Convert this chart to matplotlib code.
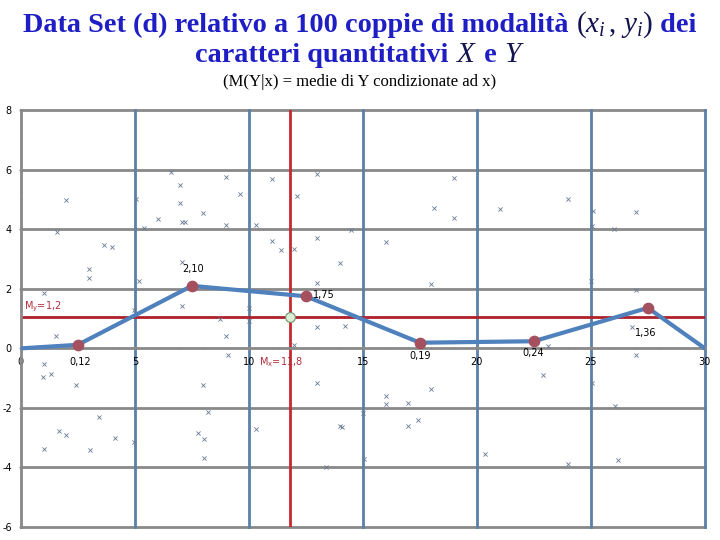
import numpy as np
import matplotlib
matplotlib.use('Agg')
import matplotlib.pyplot as plt
from matplotlib.ticker import MultipleLocator

plt.rcParams['mathtext.fontset'] = 'custom'
plt.rcParams['mathtext.rm'] = 'Liberation Serif'
plt.rcParams['mathtext.it'] = 'Liberation Serif:italic'
plt.rcParams['axes.unicode_minus'] = False

# dati
xs = [6.6, 7.0, 9.0, 9.6, 2.0, 7.0, 8.0, 6.0, 7.05, 7.2, 9.0, 5.4, 5.05, 1.6, 3.64, 4.0,
      11.0, 13.0, 12.1, 10.3, 11.0, 13.0, 14.5, 16.0, 18.1, 19.0, 19.0, 12.0, 11.4,
      24.0, 21.0, 25.1, 27.0, 25.07, 26.0,
      7.05, 3.0, 3.0, 5.2, 1.0, 7.05, 10.0, 4.97, 8.73, 1.53, 9.0, 9.1, 1.0, 0.98, 1.3,
      14.0, 13.0, 18.0, 10.0, 13.0, 14.2, 12.0,
      27.0, 26.8, 25.0, 23.1, 27.0, 22.9,
      2.4, 8.0, 8.2, 3.42, 1.68, 2.0, 7.78, 8.03, 4.12, 4.97, 1.02, 3.03, 8.03,
      13.0, 16.0, 16.0, 17.0, 18.0, 15.0, 17.4, 17.0, 14.0, 14.1, 10.3, 15.06, 13.4, 20.35,
      25.07, 26.05, 24.0, 26.2]
ys = [5.92, 5.5, 5.75, 5.17, 4.98, 4.88, 4.55, 4.36, 4.24, 4.24, 4.14, 4.05, 5.03, 3.9, 3.46, 3.39,
      5.69, 5.87, 5.11, 4.16, 3.6, 3.69, 3.96, 3.58, 4.71, 5.73, 4.37, 3.33, 3.3,
      5.03, 4.69, 4.61, 4.57, 4.1, 4.02,
      2.9, 2.65, 2.35, 2.26, 1.87, 1.42, 1.36, 1.29, 0.97, 0.41, 0.41, -0.23, -0.54, -0.95, -0.87,
      2.87, 2.2, 2.15, 0.92, 0.73, 0.75, 0.13,
      1.96, 0.73, 2.26, 0.08, -0.23, -0.9,
      -1.23, -1.24, -2.12, -2.29, -2.77, -2.92, -2.85, -3.05, -3.02, -3.14, -3.37, -3.41, -3.67,
      -1.15, -1.6, -1.88, -1.82, -1.38, -2.16, -2.4, -2.6, -2.6, -2.65, -2.72, -3.7, -3.98, -3.56,
      -1.17, -1.94, -3.87, -3.75]

# medie condizionate
xm = [0, 2.5, 7.5, 12.5, 17.5, 22.5, 27.5, 30]
ym = [0, 0.12, 2.10, 1.75, 0.19, 0.24, 1.36, 0]
etich = ['0,12', '2,10', '1,75', '0,19', '0,24', '1,36']
etich_pos = [(2.59, -0.47), (7.55, 2.65), (13.3, 1.78), (17.5, -0.27), (22.45, -0.17), (27.4, 0.5)]

Mx = 11.8
My = 1.05   # posizione della linea nel grafico

fig = plt.figure(figsize=(7.2, 5.4), dpi=100)
ax = fig.add_axes([0.029, 0.024, 0.950, 0.772])
ax.set_xlim(0, 30)
ax.set_ylim(-6, 8)

grigio = '#898989'
blu = '#5b80a8'
for yy in [-6, -4, -2, 2, 4, 6, 8]:
    ax.axhline(yy, color=grigio, lw=2, zorder=1, clip_on=False)
for xx in [5, 10, 15, 20, 25, 30]:
    ax.axvline(xx, color=blu, lw=2, zorder=1, clip_on=False)

for s in ['top', 'right']:
    ax.spines[s].set_visible(False)
ax.spines['left'].set_color(grigio)
ax.spines['left'].set_linewidth(2)
ax.spines['bottom'].set_position(('data', 0))
ax.spines['bottom'].set_color(grigio)
ax.spines['bottom'].set_linewidth(2)

ax.set_xticks([0, 5, 10, 15, 20, 25, 30])
ax.set_yticks([-6, -4, -2, 0, 2, 4, 6, 8])
ax.xaxis.set_minor_locator(MultipleLocator(1))
ax.yaxis.set_minor_locator(MultipleLocator(0.25))
ax.tick_params(which='both', color=grigio, direction='inout', length=3, width=1,
               labelsize=7, pad=5)
ax.tick_params(which='minor', length=2)

# linee delle medie
ax.axvline(Mx, color='#c8282d', lw=2, zorder=2)
ax.axhline(My, color='#b0202a', lw=2, zorder=2)

# nuvola di punti
ax.scatter(xs, ys, marker='x', s=9, color='#687b94', linewidths=0.6, zorder=3)

# spezzata delle medie condizionate
ax.plot(xm, ym, color='#4f81bd', lw=3, zorder=4)
ax.scatter(xm[1:-1], ym[1:-1], s=55, color='#a4505f', zorder=5)
ax.plot([Mx], [My], 'o', ms=7, mfc='#dcefd6', mec='#6f8f6a', mew=0.8, zorder=6)

for t, (px, py) in zip(etich, etich_pos):
    ax.text(px, py, t, fontsize=7, ha='center', va='center', zorder=7)

ax.text(0.13, 1.38, '$\\mathregular{M_y}$=1,2', fontsize=7, color='#b0303c',
        va='center', ha='left', zorder=7)
ax.text(10.45, -0.45, '$\\mathregular{M_x}$=11,8', fontsize=7, color='#b0303c',
        va='center', ha='left', zorder=7)

# titolo a pezzi
bluT = '#1e1ec4'
nero = '#141450'
kb = dict(family='Liberation Serif', weight='bold', color=bluT, fontsize=20.3)
km = dict(color=nero, fontsize=21)


def riga(pezzi, yb):
    r = fig.canvas.get_renderer()
    txts = [fig.text(0, yb, s, va='baseline', ha='left', **k) for s, k in pezzi]
    ws = [t.get_window_extent(r).width for t in txts]
    W = fig.bbox.width
    x0 = (W - sum(ws)) / 2
    for t, w in zip(txts, ws):
        t.set_x(x0 / W)
        x0 += w


riga([('Data Set (d) relativo a 100 coppie di modalità ', kb),
      ('$(x_i\\,,\\,y_i)$', km),
      (' dei', kb)], 1 - 32 / 540)
riga([('caratteri quantitativi ', kb), ('$X$', km), (' e ', kb), ('$Y$', km)], 1 - 62 / 540)
fig.text(0.5, 1 - 86 / 540, '(M(Y|x) = medie di Y condizionate ad x)', family='Liberation Serif',
         fontsize=12, ha='center', va='baseline')

fig.savefig('out.png', dpi=100)
